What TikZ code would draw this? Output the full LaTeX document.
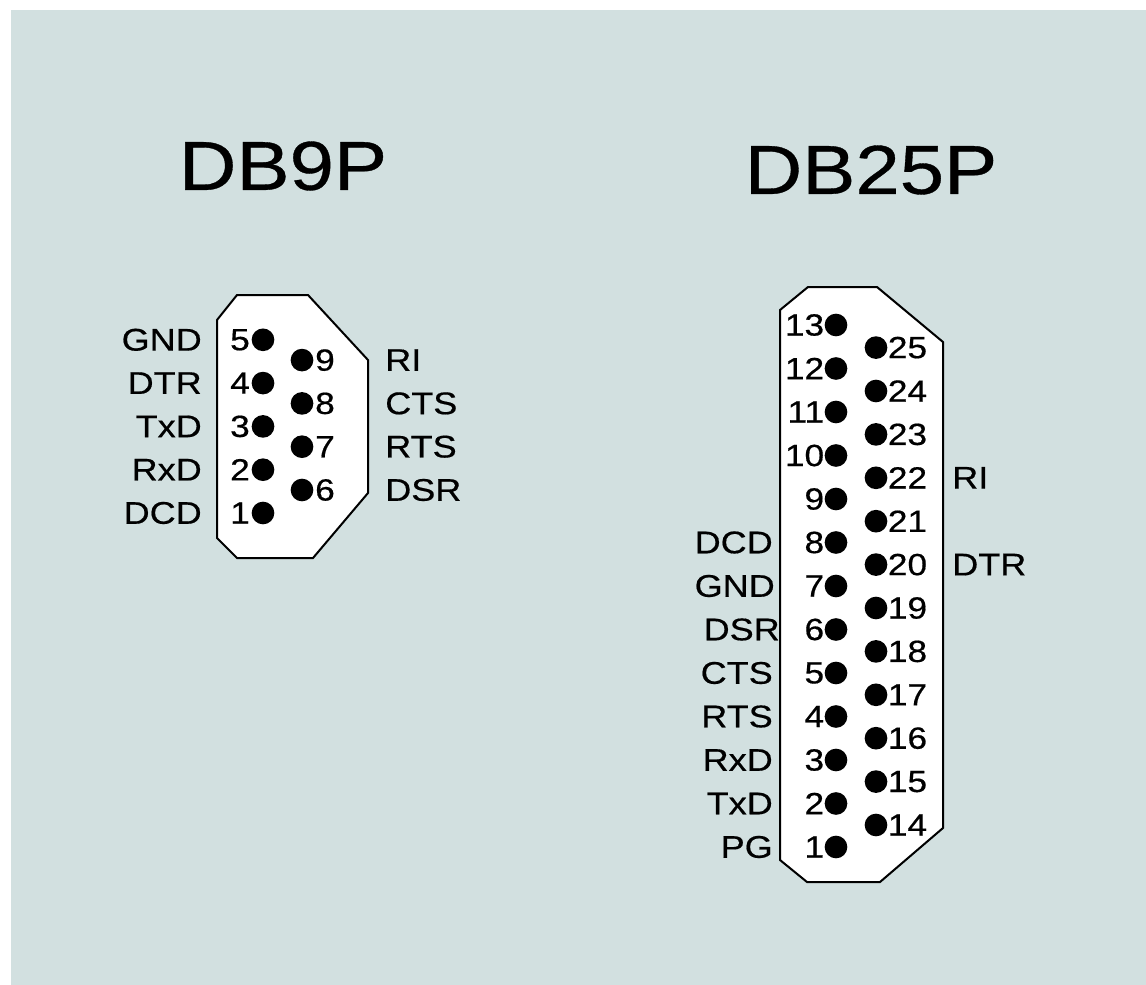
\documentclass[tikz,border=0pt]{standalone}
\usepackage{fontspec}
\setmainfont[FakeStretch=1.15,FakeBold=0.5]{Liberation Sans}
\definecolor{panel}{RGB}{210,224,224}
\tikzset{
  pindot/.style={circle,fill=black,inner sep=0pt,minimum size=17pt},
  pinnum/.style={font=\fontsize{23}{24}\selectfont,inner sep=1pt},
  signame/.style={font=\fontsize{23.5}{24}\selectfont,inner sep=0pt},
  title/.style={font=\fontsize{52}{54}\selectfont},
  shell/.style={draw,fill=white,line width=1.5pt},
}
\begin{document}
\begin{tikzpicture}[x=0.75pt,y=-0.75pt]
  \useasboundingbox (0,0) rectangle (1146,985);
  \fill[panel] (11,10) rectangle (1146,985);
  % DB9 connector
  \node[title] (db9) at (283,166) {DB9P};
  \draw[shell] (217,320) -- (237,295) -- (308,295) -- (368,360) -- (368,493)
    -- (313,558) -- (237,558) -- (217,538) -- cycle;
  \foreach \n/\s in {1/DCD,2/RxD,3/TxD,4/DTR,5/GND} {
    \node[pindot,label={[pinnum]left:\n}] (a\n) at (263,{513-(\n-1)*43.3}) {};
    \node[signame,anchor=east] (sa\n) at (202,0 |- a\n) {\s};
  }
  \foreach \n/\s in {6/DSR,7/RTS,8/CTS,9/RI} {
    \node[pindot,label={[pinnum]right:\n}] (b\n) at (302,{490-(\n-6)*43.3}) {};
    \node[signame,anchor=west] (sb\n) at (385,0 |- b\n) {\s};
  }
  % DB25 connector
  \node[title] (db25) at (871,170) {DB25P};
  \draw[shell] (780,310) -- (808,287) -- (877,287) -- (943,342) -- (943,828)
    -- (880,882) -- (807,882) -- (780,860) -- cycle;
  \foreach \n in {1,...,13}
    \node[pindot,label={[pinnum,inner sep=0pt]left:\n}] (c\n) at (836,{847-(\n-1)*43.5}) {};
  \foreach \n in {14,...,25}
    \node[pindot,label={[pinnum,inner sep=0pt]right:\n}] (d\n) at (876,{825-(\n-14)*43.4}) {};
  \foreach \n/\s/\x in {1/PG/773,2/TxD/773,3/RxD/773,4/RTS/773,5/CTS/773,6/DSR/780,7/GND/775,8/DCD/773}
    \node[signame,anchor=east] (sc\n) at (\x,0 |- c\n) {\s};
  \node[signame,anchor=west] (sd22) at (952,0 |- d22) {RI};
  \node[signame,anchor=west] (sd20) at (952,0 |- d20) {DTR};
\end{tikzpicture}
\end{document}
